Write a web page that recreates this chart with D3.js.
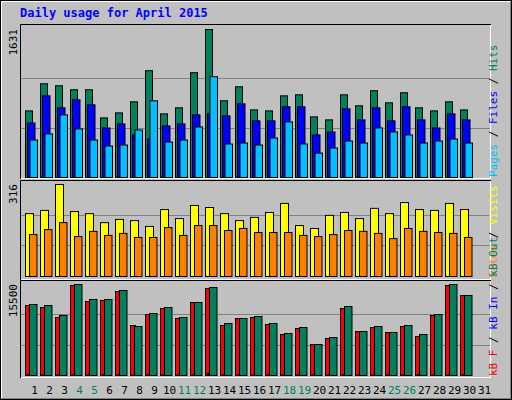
<!DOCTYPE html>
<html><head><meta charset="utf-8">
<script src="https://cdn.jsdelivr.net/npm/d3@7"></script>
<style>body{margin:0;background:#fff}svg{display:block}</style>
</head><body>
<script>
const days = d3.range(1, 32);
const weekend = [4,5,11,12,18,19,25,26];
const hits  = [734,1033,1011,967,967,657,712,834,1177,701,768,1155,1631,845,1000,745,734,900,911,668,635,911,790,956,823,934,768,734,834,745];
const files = [601,900,768,856,801,546,590,469,424,568,590,690,701,679,812,624,624,779,779,469,502,756,635,768,624,779,635,546,701,635];
const pages = [413,480,690,535,413,347,358,524,845,391,413,557,1111,369,380,358,435,613,369,269,325,402,380,546,502,469,380,402,424,380];
const visits= [216,227,316,223,216,185,196,192,172,230,199,244,237,216,192,203,220,251,175,165,210,220,199,234,216,254,230,227,251,230];
const sites = [144,161,185,137,155,141,148,134,134,168,141,175,175,158,165,151,151,151,141,137,144,158,155,148,130,165,155,151,148,134];
const kbF   = [11923,11582,9879,15330,12604,12775,14308,8516,10390,11412,9709,12434,14819,8516,9709,9879,8687,6984,8006,5280,6302,11412,7495,8176,7324,8346,6643,10220,15330,13626];
const kbIn  = [120,110,100,90,120,110,100,60,150,110,90,100,350,90,100,90,110,100,110,90,100,110,90,100,110,90,160,80,100,110];
const kbOut = [12093,11923,10220,15500,12945,12945,14478,8346,10560,11582,9879,12434,14989,8857,9709,10049,8857,7154,8176,5280,6473,11753,7495,8346,7324,8516,6984,10390,15500,13626];

const W=512,H=400;
const svg=d3.select("body").append("svg").attr("width",W).attr("height",H);
svg.append("rect").attr("width",W).attr("height",H).attr("fill","#c0c0c0");
svg.append("rect").attr("x",0.5).attr("y",0.5).attr("width",W-1).attr("height",H-1).attr("fill","none").attr("stroke","#000");
svg.append("path").attr("d",`M1.5,${H-2}V1.5H${W-2}`).attr("fill","none").attr("stroke","#fff");
svg.append("path").attr("d",`M2,${H-1.5}H${W-1.5}V2`).attr("fill","none").attr("stroke","#808080");
svg.append("text").attr("x",20).attr("y",17).text("Daily usage for April 2015")
  .attr("font-family","DejaVu Sans Mono").attr("font-weight","bold").attr("font-size",12).attr("fill","#0000ff");

const x=d3.scaleBand().domain(days).range([25,490]).paddingInner(0).paddingOuter(0);
const mono="DejaVu Sans Mono";

function panel(top,base,boxTop,boxBot,max,label,series,legend){
  const y=d3.scaleLinear().domain([0,max]).range([base,top]);
  const g=svg.append("g");
  [1,2].forEach(k=>{const yy=Math.round(base-(base-top)*k/3)+0.5;
    g.append("line").attr("x1",21).attr("x2",490).attr("y1",yy).attr("y2",yy).attr("stroke","#808080");});
  g.append("path").attr("d",`M20.5,${boxBot}V${boxTop+0.5}H491`).attr("fill","none").attr("stroke","#000");
  g.append("path").attr("d",`M21,${boxBot-0.5}H490.5V${boxTop+1}`).attr("fill","none").attr("stroke","#fff");
  series.forEach(s=>{
    g.selectAll(null).data(s.data).enter().append("rect")
      .attr("x",(d,i)=>x(days[i])+s.off+0.5).attr("width",s.w)
      .attr("y",d=>y(d)+0.5).attr("height",d=>Math.max(0,base-y(d)))
      .attr("fill",s.color).attr("stroke","#000").attr("stroke-width",1);
  });
  g.append("text").attr("transform",`translate(17,${top}) rotate(-90)`).attr("text-anchor","end")
    .attr("font-family",mono).attr("font-size",11).attr("fill","#000").text(label);
  const t=g.append("text").attr("transform",`translate(497,${boxBot-2}) rotate(-90)`)
    .attr("font-family",mono).attr("font-size",11);
  legend.forEach(l=>t.append("tspan").attr("fill",l[1]).text(l[0]));
}

panel(29,177,24,179,1631,"1631",[
  {data:hits,off:0,w:7,color:"#00805c"},
  {data:files,off:2,w:7.5,color:"#0000ff"},
  {data:pages,off:4.5,w:7.5,color:"#00c0ff"}],
  [["Pages","#00c0ff"],[" / ","#000"],["Files","#0000ff"],[" / ","#000"],["Hits","#00805c"]]);
panel(184,276,180,280,316,"316",[
  {data:visits,off:0,w:8,color:"#ffff00"},
  {data:sites,off:4,w:7.5,color:"#ff8000"}],
  [["Sites","#ff8000"],[" / ","#000"],["Visits","#ffff00"]]);
panel(284,375,280,378,15500,"15500",[
  {data:kbF,off:0,w:5,color:"#ff0000"},
  {data:kbOut,off:4,w:7.5,color:"#00805c"},
  {data:kbIn,off:2,w:1.5,color:"#0000ff"}],
  [["kB F","#ff0000"],[" / ","#000"],["kB In","#0000ff"],[" / ","#000"],["kB Out","#00805c"]]);

svg.selectAll(null).data(days).enter().append("text")
  .attr("x",d=>x(d)+x.bandwidth()/2+2).attr("y",394).attr("text-anchor","middle")
  .attr("font-family",mono).attr("font-size",11)
  .attr("fill",d=>weekend.includes(d)?"#00805c":"#000").text(d=>d);
</script>
</body></html>
